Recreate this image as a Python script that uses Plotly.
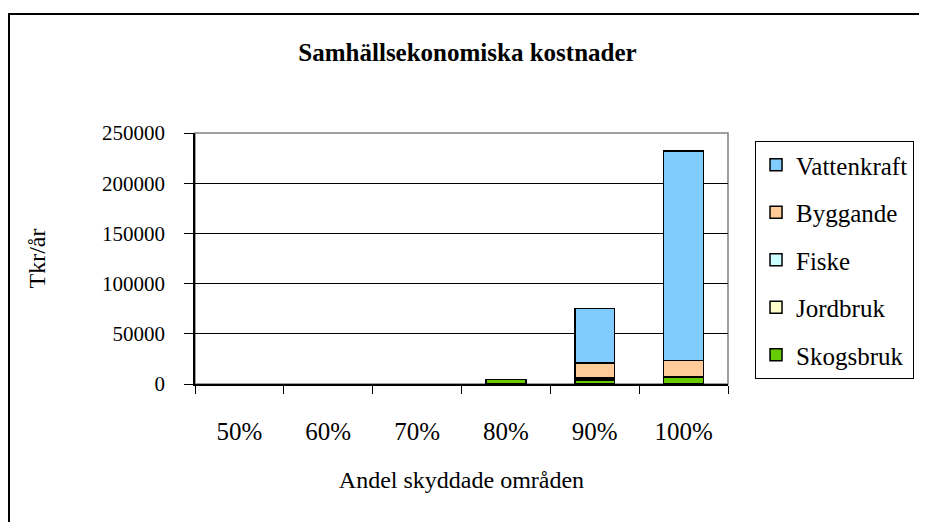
import plotly.graph_objects as go

categories = ["50%", "60%", "70%", "80%", "90%", "100%"]
skogsbruk = [0, 0, 0, 4500, 4000, 7000]
jordbruk = [0, 0, 0, 0, 1500, 0]
fiske = [0, 0, 0, 0, 500, 0]
byggande = [0, 0, 0, 0, 15000, 16500]
vattenkraft = [0, 0, 0, 0, 54000, 208500]

series = [
    ("Skogsbruk", skogsbruk, "#66CC00"),
    ("Jordbruk", jordbruk, "#FFFFCC"),
    ("Fiske", fiske, "#CCFFFF"),
    ("Byggande", byggande, "#FFCC99"),
    ("Vattenkraft", vattenkraft, "#80CCFF"),
]

FONT = "Liberation Serif"

fig = go.Figure()
for i, (name, vals, color) in enumerate(series):
    # zero values are left out so no empty outlines are drawn
    fig.add_trace(go.Bar(
        x=categories, y=[v if v else None for v in vals], name=name, legendgroup=name,
        legendrank=len(series) - i,
        marker=dict(color=color, line=dict(color="black", width=1.5)),
        width=0.45,
    ))

# page body has an 8px margin, so the figure is shrunk by 8px each way
fig.update_layout(
    barmode="stack",
    width=919, height=514,
    margin=dict(l=187, r=199, t=125, b=138),
    paper_bgcolor="white", plot_bgcolor="white",
    font=dict(family=FONT, size=21, color="black"),
    title=dict(text="<b>Samhällsekonomiska kostnader</b>", x=0.5, xanchor="center",
               y=0.914, yanchor="middle", font=dict(size=25)),
    showlegend=True,
    legend=dict(x=1.0507, y=0.968, xanchor="left", yanchor="top",
                traceorder="grouped", tracegroupgap=12, maxheight=400,
                bordercolor="black", borderwidth=1, font=dict(size=25),
                itemwidth=30),
    shapes=[
        dict(type="rect", xref="paper", yref="paper", x0=0, x1=1, y0=0, y1=1,
             line=dict(color="#808080", width=1.5), layer="between"),
        dict(type="rect", xref="paper", yref="paper", x0=-0.349, x1=1.5, y0=-0.6, y1=1.474,
             line=dict(color="black", width=2)),
    ],
)

fig.update_xaxes(
    type="category", tickson="boundaries", ticks="outside", ticklen=8, tickcolor="black",
    showline=True, linecolor="black", linewidth=1.5, showgrid=False,
    ticklabelstandoff=24, tickfont=dict(size=25),
    title=dict(text="Andel skyddade områden", standoff=27, font=dict(size=24)),
)
fig.update_yaxes(
    range=[0, 250000], dtick=50000, tickformat="d", ticks="outside", ticklen=9,
    tickcolor="black", showline=True, linecolor="black", linewidth=1.5,
    showgrid=True, gridcolor="black", gridwidth=1, zeroline=False,
    ticklabelstandoff=15, tickfont=dict(size=21),
    title=dict(text="Tkr/år", standoff=50, font=dict(size=24)),
)

fig.write_html("out.html")
